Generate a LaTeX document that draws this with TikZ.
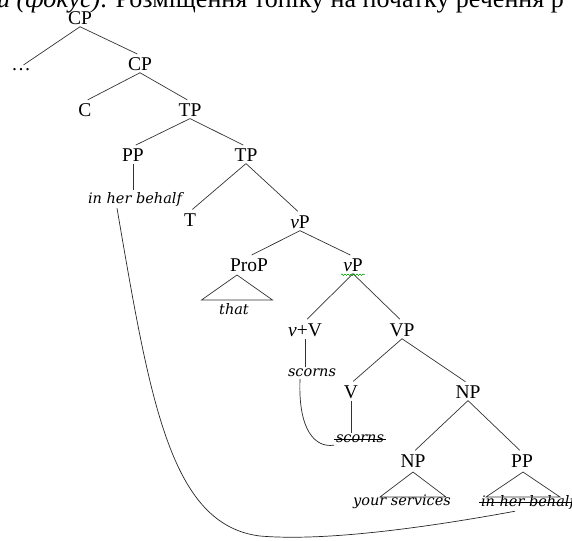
\documentclass[tikz,border=0pt]{standalone}
\usepackage{fontspec}
\setmainfont{Liberation Serif}
\newfontfamily\glossfont{DejaVu Serif}
\usetikzlibrary{decorations.pathmorphing}
\def\roof(#1,#2)(#3){\draw[branch] (#1,#2) -- ++(-#3,25) -- ++(2*#3,0) -- cycle;}
\def\strike(#1){\draw[line width=0.6pt] ([yshift=3.8pt]#1.base west) -- ([yshift=3.8pt]#1.base east);}
\tikzset{
	lbl/.style={font=\fontsize{19.5}{22}\selectfont, inner sep=2pt},
	gloss/.style={font=\fontsize{14.5}{16}\glossfont\itshape\selectfont, inner sep=2pt},
	branch/.style={line width=0.7pt, color=black!80},
	move/.style={line width=0.7pt, color=black!85},
}
\begin{document}
\begin{tikzpicture}[x=1pt, y=-1pt]
			%%%%% START %%%%%
			\useasboundingbox (0,0) rectangle (572,540);
			\clip (0,0) rectangle (572,540);
			
			\node[anchor=base west, inner sep=0, font=\fontsize{26}{29}\selectfont] (head) at (-3,8) {\textit{и (фокус)}. Розміщення топіку на початку речення р};
			
			\node[lbl] (cpA) at (80,18) {CP};
			\node[lbl] (dots) at (21,70) {\dots};
			\node[lbl] (cpB) at (140,64) {CP};
			\node[lbl] (c) at (85,110) {C};
			\node[lbl] (tpA) at (190,110) {TP};
			\node[lbl] (ppA) at (133,155) {PP};
			\node[lbl] (tpB) at (246,155) {TP};
			\node[gloss] (ihbA) at (135,199) {in her behalf};
			\node[lbl] (t) at (190,220) {T};
			\node[lbl] (vpA) at (300,222) {\textit{v}P};
			\node[lbl] (prop) at (249,265) {ProP};
			\node[lbl] (vpB) at (353,265) {\textit{v}P};
			\node[gloss] (that) at (234,309) {that};
			\node[lbl] (vv) at (305,330) {\textit{v}+V};
			\node[lbl] (vp) at (402,330) {VP};
			\node[gloss] (scA) at (312,373) {scorns};
			\node[lbl] (v) at (351,392) {V};
			\node[lbl] (npA) at (468,392) {NP};
			\node[gloss] (scB) at (360,439) {scorns};
			\node[lbl] (npB) at (413,461) {NP};
			\node[lbl] (ppB) at (522,461) {PP};
			\node[gloss] (ys) at (402,502) {your services};
			\node[gloss] (ihbB) at (528,502) {in her behalf};
			\strike(scB)
			\strike(ihbB)
			
			\draw[branch, shorten >=3pt] (cpA.south) -- (dots.north);
			\draw[branch, shorten >=3pt] (cpA.south) -- (cpB.north);
			\draw[branch, shorten >=3pt] (cpB.south) -- (c.north);
			\draw[branch, shorten >=3pt] (cpB.south) -- (tpA.north);
			\draw[branch, shorten >=3pt] (tpA.south) -- (ppA.north);
			\draw[branch, shorten >=3pt] (tpA.south) -- (tpB.north);
			\draw[branch] (ppA.south) -- (ppA.south |- ihbA.north);
			\draw[branch, shorten >=3pt] (tpB.south) -- (t.north);
			\draw[branch, shorten >=3pt] (tpB.south) -- (vpA.north);
			\draw[branch, shorten >=3pt] (vpA.south) -- (prop.north);
			\draw[branch, shorten >=3pt] (vpA.south) -- (vpB.north);
			\draw[branch, shorten >=3pt] (vpB.south) -- (vv.north);
			\draw[branch, shorten >=3pt] (vpB.south) -- (vp.north);
			\draw[branch] (vv.south) -- (vv.south |- scA.north);
			\draw[branch, shorten >=3pt] (vp.south) -- (v.north);
			\draw[branch, shorten >=3pt] (vp.south) -- (npA.north);
			\draw[branch] (v.south) -- (v.south |- scB.north);
			\draw[branch, shorten >=3pt] (npA.south) -- (npB.north);
			\draw[branch, shorten >=3pt] (npA.south) -- (ppB.north);
			
			\roof(237,275)(35.5)
			\roof(413,472)(33)
			\roof(523,472)(37)
			
			\draw[green!60!black, line width=0.5pt, decorate, decoration={snake, amplitude=0.8pt, segment length=3pt}] ([yshift=-1pt]vpB.south west) -- ([yshift=-1pt]vpB.south east);
			
			% movement
			\draw[move] ([xshift=-12pt]scA.south) .. controls (298,430) and (315,448) .. (scB.south west);
			\draw[move] ([xshift=-18pt]ihbA.south) .. controls (150,400) and (170,525) .. (260,536) .. controls (330,542) and (440,525) .. ([xshift=-13pt]ihbB.south);
			
			%%%%% END %%%%%
		\end{tikzpicture}
\end{document}
